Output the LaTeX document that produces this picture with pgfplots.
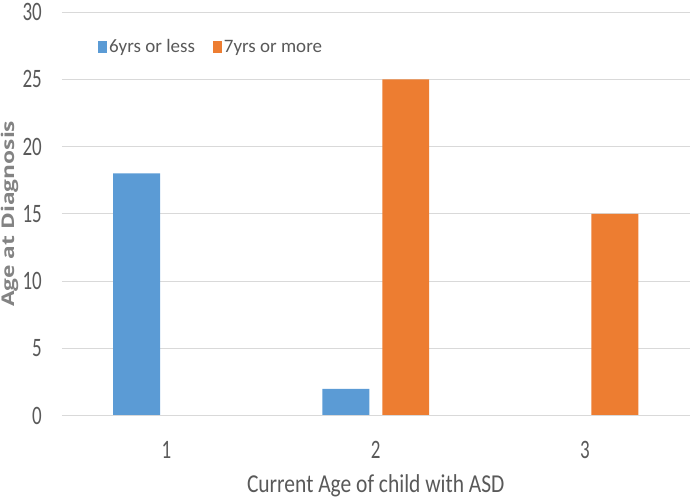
\documentclass[border=0pt]{standalone}
\usepackage{pgfplots}
\pgfplotsset{compat=1.18}
\usepackage{graphicx}
\usepackage{fontspec}
\setmainfont{Carlito}
\newfontfamily\labfont{Open Sans}
\definecolor{cblue}{HTML}{5B9BD5}
\definecolor{corange}{HTML}{ED7D31}
\definecolor{tgray}{HTML}{595959}
\definecolor{ggray}{HTML}{D9D9D9}
\begin{document}
\begin{tikzpicture}
\begin{axis}[
  name=ax,
  scale only axis,
  width=628pt, height=404pt,
  ybar=13pt, bar width=47pt,
  xmin=0.5, xmax=3.5,
  ymin=0, ymax=30,
  xtick={1,2,3},
  ytick={0,5,10,15,20,25,30},
  ymajorgrids, grid style={ggray, line width=0.9pt},
  axis line style={draw=none},
  major tick length=0pt,
  tick label style={font=\fontsize{19}{21}\selectfont, text=tgray, inner sep=0pt},
  /pgf/number format/assume math mode=true,
  xticklabel style={anchor=center, yshift=-34pt},
  yticklabel style={anchor=east, xshift=-20pt},
  xticklabel={\scalebox{1}[1.4]{\pgfmathprintnumber{\tick}}},
  yticklabel={\scalebox{1}[1.4]{\pgfmathprintnumber{\tick}}},
  xlabel={\scalebox{1}[1.2]{Current Age of child with ASD}},
  xlabel style={font=\fontsize{21.5}{24}\selectfont, text=tgray, at={(0.5,0)}, anchor=center, yshift=-70pt, inner sep=0pt},
  ylabel={\scalebox{1.3}[1]{Age at Diagnosis}},
  ylabel style={font=\labfont\bfseries\fontsize{17.5}{20}\selectfont, text=tgray!75, at={(-0.0836,0.5)}, anchor=center, inner sep=0pt},
  legend columns=2,
  legend style={draw=none, fill=none, at={(0.0573,0.913)}, anchor=west, inner sep=0pt,
    font=\fontsize{19}{21}\selectfont, text=tgray,
    /tikz/every even column/.append style={column sep=16pt}},
  legend image code/.code={\fill[#1] (0pt,-6pt) rectangle (9pt,6pt);},
  clip=false,
]
\addplot[fill=cblue, draw=none] coordinates {(1,18) (2,2)};
\addplot[fill=corange, draw=none] coordinates {(2,25) (3,15)};
\legend{6yrs or less, 7yrs or more}
\draw[ggray, line width=0.9pt] (rel axis cs:0,0) -- (rel axis cs:1,0);
\end{axis}
\path (ax.south west) ++(-62pt,-86pt) coordinate (bl);
\path (ax.north east) ++(0pt,12pt) coordinate (tr);
\path (bl) rectangle (tr);
\end{tikzpicture}
\end{document}
